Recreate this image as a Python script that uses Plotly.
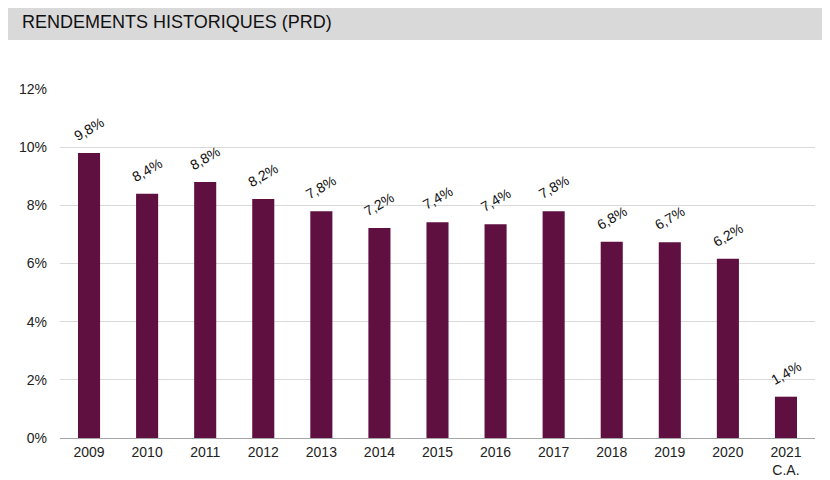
import plotly.graph_objects as go

categories = ["2009", "2010", "2011", "2012", "2013", "2014", "2015", "2016",
              "2017", "2018", "2019", "2020", "2021<br>C.A."]
values = [9.8, 8.4, 8.8, 8.22, 7.8, 7.22, 7.42, 7.35, 7.8, 6.75, 6.73, 6.16, 1.42]
labels = ["9,8%", "8,4%", "8,8%", "8,2%", "7,8%", "7,2%", "7,4%", "7,4%",
          "7,8%", "6,8%", "6,7%", "6,2%", "1,4%"]
yticks = [0, 2, 4, 6, 8, 10, 12]
yticklabels = ["0%", "2%", "4%", "6%", "8%", "10%", "12%"]

FONT = "Liberation Sans, Arial, sans-serif"
BAR = "#5f0f40"

# figure coordinates (page has an 8px body offset)
ML, MR, MT, MB = 52, 23, 81, 50
PW = 830 - ML - MR
PH = 480 - MT - MB


def px(xf):
    return (xf - ML) / PW


def py(yf):
    return (480 - MB - yf) / PH


fig = go.Figure()
fig.add_trace(go.Bar(x=categories, y=values, marker=dict(color=BAR, line=dict(width=0)),
                     hoverinfo="skip"))

for i, (v, t) in enumerate(zip(values, labels)):
    fig.add_annotation(x=i, y=v, text=t, showarrow=False, textangle=-30,
                       yshift=24, xshift=0, font=dict(family=FONT, size=14, color="#111"))

fig.add_shape(type="rect", xref="paper", yref="paper", x0=px(0), x1=px(830),
              y0=py(32), y1=py(-4),
              fillcolor="#d9d9d9", line=dict(width=0), layer="below")
fig.add_annotation(xref="paper", yref="paper", x=px(12), y=py(14),
                   xanchor="left", yanchor="middle", showarrow=False,
                   text="RENDEMENTS HISTORIQUES (PRD)",
                   font=dict(family=FONT, size=18, color="#111"))

fig.update_layout(
    width=830, height=480,
    margin=dict(l=ML, r=MR, t=MT, b=MB, autoexpand=False),
    paper_bgcolor="white", plot_bgcolor="white",
    bargap=0.62, showlegend=False,
    font=dict(family=FONT, size=14, color="#222"),
)
fig.update_xaxes(type="category", range=[-0.5, len(categories) - 0.5],
                 showgrid=False, ticks="", showline=False, ticklabelstandoff=4,
                 tickfont=dict(size=14), fixedrange=True, automargin=False)
fig.update_yaxes(range=[0, 12], tickvals=yticks, ticktext=yticklabels,
                 showgrid=True, gridcolor="#d9d9d9", gridwidth=1,
                 zeroline=True, zerolinecolor="#a6a6a6", zerolinewidth=1,
                 ticks="", ticklabelstandoff=12, tickfont=dict(size=14),
                 automargin=False)

fig.write_html("out.html")
